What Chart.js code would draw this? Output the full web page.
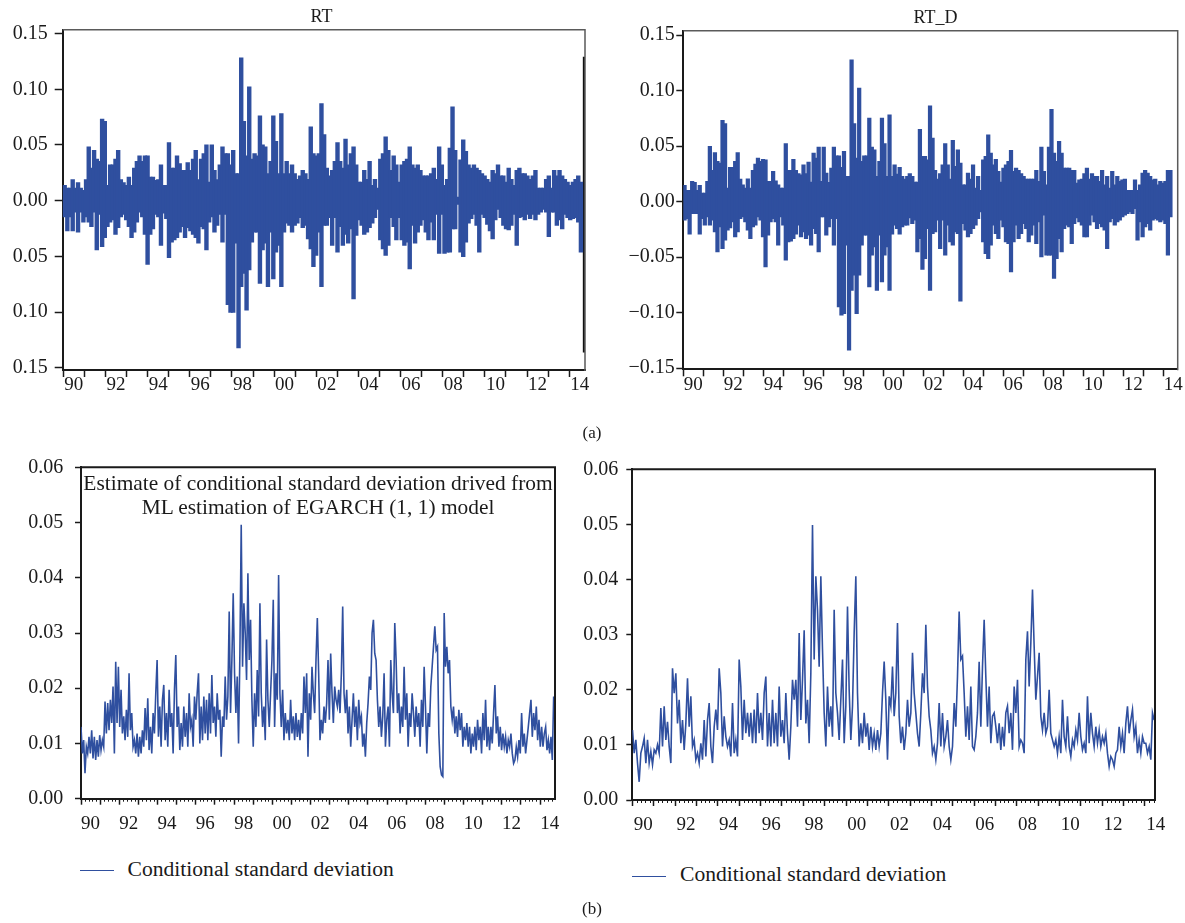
<!DOCTYPE html>
<html>
<head>
<meta charset="utf-8">
<title>RT / RT_D and EGARCH conditional standard deviation</title>
<script src="https://cdn.jsdelivr.net/npm/chart.js@4.4.1/dist/chart.umd.min.js"></script>
<style>
    html, body { margin: 0; padding: 0; background: #fff; }
    body { position: relative; width: 1185px; height: 923px; overflow: hidden;
           font-family: 'Liberation Serif', 'Times New Roman', serif; color: #1a1a1a; }
    canvas { position: absolute; }
    .txt { position: absolute; white-space: nowrap; line-height: 1; }
    .mid { transform: translateX(-50%); }
    .key { position: absolute; height: 0; width: 34px; border-top: 1.3px solid #2f4f9f; }
</style>
</head>
<body>
<canvas id="rt" width="600" height="400" style="left:0;top:0"></canvas>
<canvas id="rtd" width="585" height="400" style="left:600px;top:0"></canvas>
<canvas id="sdLeft" width="600" height="400" style="left:0;top:440px"></canvas>
<canvas id="sdRight" width="625" height="400" style="left:560px;top:440px"></canvas>

<div class="txt mid" style="left:321.5px;top:7px;font-size:18px">RT</div>
<div class="txt mid" style="left:935.5px;top:8px;font-size:18px">RT_D</div>
<div class="txt mid" style="left:592px;top:424px;font-size:17px">(a)</div>
<div class="txt mid" style="left:318px;top:473px;font-size:21.4px">Estimate of conditional standard deviation drived from</div>
<div class="txt mid" style="left:318px;top:497px;font-size:21.4px">ML estimation of EGARCH (1, 1) model</div>
<div class="key" style="left:80px;top:870px"></div>
<div class="txt" style="left:127.5px;top:858.5px;font-size:21.6px">Conditional standard deviation</div>
<div class="key" style="left:632px;top:875.5px"></div>
<div class="txt" style="left:680px;top:864px;font-size:21.6px">Conditional standard deviation</div>
<div class="txt mid" style="left:592px;top:900px;font-size:17px">(b)</div>

<script>
// ── Data ─────────────────────────────────────────────────────────────────
const YEARS = [1990, 1991, 1992, 1993, 1994, 1995, 1996, 1997, 1998, 1999, 2000, 2001, 2002,
               2003, 2004, 2005, 2006, 2007, 2008, 2009, 2010, 2011, 2012, 2013, 2014];
const RET_TICKS = [-0.15, -0.10, -0.05, 0, 0.05, 0.10, 0.15];
const SD_TICKS = [0, 0.01, 0.02, 0.03, 0.04, 0.05, 0.06];

// RT: high / low of each ~1.5 month block, Jan 1990 .. mid 2014
const RT_START = 1990.0, RT_END = 2014.62;
const RT_HI = [
    0.0135,0.011,0.011,0.0186,0.011,0.016,0.011,0.009,0.0186,0.048,
    0.029,0.045,0.037,0.035,0.073,0.071,0.0135,0.032,0.032,0.037,
    0.045,0.0186,0.016,0.0135,0.021,0.0135,0.029,0.035,0.040,0.035,
    0.040,0.040,0.021,0.021,0.018,0.0186,0.032,0.0135,0.0135,0.052,
    0.029,0.029,0.040,0.033,0.027,0.027,0.034,0.027,0.037,0.045,
    0.0186,0.037,0.042,0.050,0.0165,0.050,0.027,0.0186,0.032,0.048,
    0.042,0.042,0.032,0.045,0.024,0.024,
    0.128,0.071,0.040,0.102,0.037,0.042,0.040,0.076,0.050,0.048,
    0.024,0.035,0.076,0.053,0.024,0.078,0.024,0.035,0.024,0.032,
    0.024,0.019,0.022,0.027,0.024,0.019,0.066,0.042,0.040,0.042,
    0.087,0.059,0.029,0.022,0.027,0.035,0.052,0.035,0.029,0.055,
    0.032,0.042,0.048,0.032,0.0165,0.0165,0.027,0.019,0.035,0.0135,
    0.019,0.011,0.037,0.042,0.057,0.045,0.027,0.040,0.032,0.0165,
    0.032,0.035,0.037,0.048,0.032,
    0.029,0.032,0.027,0.022,0.022,0.022,0.024,0.029,0.019,0.048,
    0.032,0.0135,0.019,0.047,0.084,0.045,0.003,0.0365,0.0545,0.044,
    0.032,0.029,0.032,0.029,0.027,0.024,0.022,0.019,0.0165,0.027,
    0.024,0.032,0.022,0.022,0.0165,0.029,0.019,0.0135,0.027,0.029,
    0.024,0.024,0.022,0.019,0.022,0.027,0.011,0.011,0.011,0.019,
    0.022,0.011,0.027,0.022,0.027,0.022,0.019,0.0165,0.0135,0.0165,
    0.019,0.022,0.0165
];
const RT_LO = [
    -0.0144,-0.027,-0.0144,-0.027,-0.010,-0.028,-0.010,-0.019,-0.0144,-0.019,
    -0.023,-0.010,-0.044,-0.012,-0.041,-0.033,-0.023,-0.019,-0.017,-0.030,
    -0.024,-0.0144,-0.012,-0.017,-0.023,-0.033,-0.028,-0.019,-0.010,-0.0144,
    -0.030,-0.057,-0.030,-0.025,-0.012,-0.0144,-0.040,-0.011,-0.016,-0.051,
    -0.037,-0.035,-0.033,-0.028,-0.023,-0.033,-0.024,-0.027,-0.030,-0.033,
    -0.038,-0.023,-0.025,-0.044,-0.019,-0.0144,-0.028,-0.022,-0.012,-0.037,
    -0.012,-0.093,-0.100,-0.100,-0.038,-0.132,
    -0.077,-0.065,-0.098,-0.062,-0.037,-0.028,-0.028,-0.074,-0.044,-0.038,
    -0.077,-0.028,-0.070,-0.046,-0.040,-0.077,-0.028,-0.020,-0.022,-0.028,
    -0.022,-0.020,-0.015,-0.024,-0.022,-0.034,-0.043,-0.059,-0.049,-0.028,
    -0.077,-0.022,-0.022,-0.015,-0.040,-0.015,-0.046,-0.023,-0.040,-0.030,
    -0.038,-0.025,-0.088,-0.031,-0.017,-0.022,-0.030,-0.028,-0.024,-0.020,
    -0.015,-0.0075,-0.035,-0.043,-0.049,-0.040,-0.015,-0.023,-0.035,-0.015,
    -0.035,-0.040,-0.037,-0.061,-0.022,
    -0.038,-0.028,-0.022,-0.017,-0.028,-0.035,-0.019,-0.035,-0.012,-0.047,
    -0.012,-0.047,-0.046,-0.046,-0.025,-0.025,-0.003,-0.046,-0.050,-0.037,
    -0.020,-0.016,-0.012,-0.022,-0.046,-0.012,-0.015,-0.021,-0.027,-0.034,
    -0.017,-0.0075,-0.015,-0.022,-0.025,-0.026,-0.022,-0.012,-0.040,-0.015,
    -0.014,-0.017,-0.012,-0.016,-0.012,-0.017,-0.012,-0.010,-0.0075,-0.010,
    -0.032,-0.010,-0.010,-0.022,-0.017,-0.025,-0.012,-0.015,-0.017,-0.016,
    -0.015,-0.019,-0.046
];
// the dark stroke sitting on the right edge of the RT panel
const RT_EDGE_X = 2014.71;
const RT_EDGE = [-0.136, 0.129];

// RT_D: same blocks
const RTD_START = 1990.0, RTD_END = 2014.42;
const RTD_HI = [
    0.0144,0.0099,0.0099,0.018,0.0171,0.0099,0.0144,0.0075,0.0075,0.018,
    0.0495,0.028,0.044,0.036,0.0345,0.073,0.070,0.012,0.0306,0.0306,
    0.036,0.044,0.020,0.015,0.012,0.0204,0.012,0.028,0.0336,0.039,
    0.036,0.038,0.0375,0.018,0.018,0.027,0.0186,0.015,0.012,0.012,
    0.052,0.028,0.028,0.038,0.028,0.025,0.024,0.033,0.025,0.0354,
    0.0174,0.0435,0.039,0.049,0.018,0.049,0.0255,0.0171,0.030,0.049,
    0.041,0.041,0.0306,0.045,0.0225,0.0225,0.1276,0.070,0.039,0.102,
    0.036,0.041,0.041,0.075,0.049,0.0465,0.0225,0.036,0.075,0.052,
    0.0225,0.078,0.0225,0.033,0.0246,0.0306,0.0225,0.020,
    0.0225,0.025,0.0225,0.0174,0.0174,0.065,0.0405,0.0405,0.0375,0.086,
    0.057,0.028,0.020,0.025,0.033,0.052,0.033,0.020,0.055,0.0315,
    0.0465,0.0345,0.015,0.015,0.0255,0.020,0.033,0.012,0.0225,0.010,
    0.0375,0.0405,0.060,0.0435,0.033,0.038,0.027,0.0174,0.030,0.033,
    0.036,0.046,0.027,0.030,0.028,0.025,0.0225,0.020,0.020,0.020,
    0.020,0.028,0.018,0.049,0.027,0.015,0.049,0.083,0.0435,0.036,
    0.054,0.0435,0.030,0.030,0.030,0.028,0.028,0.0165,0.0195,0.020,
    0.025,0.030,0.020,0.025,0.0225,0.0225,0.018,0.028,0.015,0.0225,
    0.012,0.027,0.015,0.0225,0.018,0.0195,0.020,0.010,0.010,0.010,
    0.0195,0.010,0.015,0.0255,0.028,0.0255,0.0225,0.0195,0.020,0.015,
    0.018,0.0165,0.018,0.028,0.028
];
const RTD_LO = [
    -0.0165,-0.015,-0.029,-0.0105,-0.0105,-0.0105,-0.029,-0.015,-0.021,-0.0135,
    -0.021,-0.0165,-0.027,-0.045,-0.0225,-0.042,-0.0345,-0.0255,-0.0234,-0.018,
    -0.0315,-0.027,-0.015,-0.0135,-0.018,-0.0255,-0.033,-0.0225,-0.021,-0.0135,
    -0.0165,-0.0315,-0.0585,-0.030,-0.018,-0.015,-0.018,-0.039,-0.0135,-0.021,
    -0.0525,-0.036,-0.0354,-0.033,-0.029,-0.021,-0.0315,-0.027,-0.033,-0.030,
    -0.039,-0.024,-0.0285,-0.045,-0.0135,-0.0135,-0.030,-0.0225,-0.015,-0.039,
    -0.015,-0.0946,-0.102,-0.1006,-0.039,-0.1336,-0.0796,-0.066,-0.1006,-0.066,
    -0.039,-0.030,-0.030,-0.0766,-0.048,-0.0405,-0.0796,-0.030,-0.072,-0.048,
    -0.0405,-0.0796,-0.029,-0.021,-0.024,-0.029,-0.0225,-0.021,
    -0.021,-0.0144,-0.0195,-0.0165,-0.045,-0.033,-0.0607,-0.051,-0.024,-0.0796,
    -0.0285,-0.027,-0.0165,-0.042,-0.0165,-0.048,-0.021,-0.036,-0.039,-0.027,
    -0.0285,-0.0895,-0.0195,-0.0255,-0.0315,-0.0285,-0.024,-0.021,-0.015,-0.009,
    -0.036,-0.0465,-0.051,-0.039,-0.021,-0.0285,-0.033,-0.0165,-0.0225,-0.036,
    -0.0375,-0.063,-0.036,-0.021,-0.033,-0.0285,-0.0195,-0.024,-0.036,-0.030,
    -0.021,-0.0375,-0.018,-0.0495,-0.012,-0.048,-0.048,-0.048,-0.069,-0.051,
    -0.033,-0.045,-0.024,-0.021,-0.0225,-0.0375,-0.0195,-0.0144,-0.018,-0.021,
    -0.0315,-0.0315,-0.021,-0.012,-0.018,-0.024,-0.0195,-0.0225,-0.0255,-0.042,
    -0.018,-0.015,-0.021,-0.018,-0.0165,-0.0135,-0.012,-0.0105,-0.009,-0.0105,
    -0.006,-0.0345,-0.018,-0.0315,-0.0225,-0.0195,-0.0255,-0.0165,-0.015,-0.0165,
    -0.018,-0.0165,-0.0195,-0.048,-0.0135
];

// conditional standard deviation, left panel (EGARCH on RT)
const SDL_START = 1990.0, SDL_END = 2014.71;
const SD_LEFT = [
    0.0130,0.0082,0.0106,0.0046,0.0094,0.0082,0.0112,0.0082,0.0124,0.0073,
    0.0112,0.0070,0.0106,0.0076,0.0115,0.0088,0.0106,0.0094,0.0176,0.0118,
    0.0173,0.0124,0.0179,0.0137,0.0203,0.0082,0.0248,0.0137,0.0239,0.0130,
    0.0197,0.0118,0.0149,0.0106,0.0161,0.0112,0.0227,0.0124,0.0155,0.0094,
    0.0106,0.0082,0.0118,0.0076,0.0112,0.0082,0.0124,0.0094,0.0164,0.0106,
    0.0182,0.0088,0.0130,0.0082,0.0155,0.0118,0.0191,0.0251,0.0112,0.0167,
    0.0094,0.0179,0.0206,0.0106,0.0155,0.0094,0.0197,0.0130,0.0155,0.0082,
    0.0197,0.0260,0.0130,0.0167,0.0088,0.0137,0.0094,0.0167,0.0112,0.0155,
    0.0094,0.0191,0.0130,0.0143,0.0094,0.0185,0.0143,0.0191,0.0227,0.0100,
    0.0167,0.0106,0.0185,0.0118,0.0179,0.0106,0.0191,0.0118,0.0224,0.0137,
    0.0167,0.0112,0.0191,0.0143,0.0161,0.0076,0.0149,0.0130,0.0221,0.0143,
    0.0185,0.0339,0.0155,0.0251,0.0372,0.0227,0.0155,0.0221,0.0100,0.0263,
    0.0496,0.0239,0.0354,0.0300,0.0215,0.0408,0.0251,0.0324,0.0179,0.0094,
    0.0191,0.0130,0.0233,0.0149,0.0354,0.0191,0.0130,0.0167,0.0106,0.0288,
    0.0179,0.0130,0.0191,0.0251,0.0360,0.0130,0.0227,0.0179,0.0405,0.0191,
    0.0130,0.0197,0.0106,0.0155,0.0118,0.0143,0.0106,0.0179,0.0118,0.0149,
    0.0106,0.0155,0.0112,0.0143,0.0106,0.0155,0.0118,0.0221,0.0155,0.0227,
    0.0076,0.0191,0.0143,0.0239,0.0191,0.0155,0.0251,0.0327,0.0227,
    0.0106,0.0143,0.0118,0.0167,0.0137,0.0173,0.0251,0.0143,0.0263,0.0191,
    0.0137,0.0203,0.0179,0.0167,0.0197,0.0155,0.0227,0.0348,0.0191,0.0155,
    0.0197,0.0118,0.0167,0.0094,0.0143,0.0191,0.0130,0.0167,0.0106,0.0179,
    0.0137,0.0149,0.0094,0.0118,0.0076,0.0137,0.0173,0.0221,0.0197,0.0300,
    0.0324,0.0263,0.0251,0.0179,0.0130,0.0167,0.0112,0.0149,0.0227,0.0094,
    0.0143,0.0167,0.0094,0.0251,0.0191,0.0155,0.0318,0.0251,0.0155,0.0191,
    0.0118,0.0167,0.0130,0.0239,0.0143,0.0191,0.0094,0.0155,0.0130,0.0191,
    0.0155,0.0112,0.0167,0.0130,0.0155,0.0094,0.0179,0.0130,0.0239,0.0167,
    0.0082,0.0155,0.0130,0.0203,0.0239,0.0275,0.0312,0.0269,0.0275,0.0118,
    0.0058,0.0043,0.0040,0.0336,0.0239,0.0275,0.0227,0.0251,0.0167,0.0143,
    0.0167,0.0118,0.0149,0.0112,0.0161,0.0124,0.0155,0.0094,0.0130,0.0106,
    0.0137,0.0094,0.0130,0.0082,0.0118,0.0094,0.0130,0.0088,0.0143,0.0106,
    0.0130,0.0082,0.0155,0.0106,0.0179,0.0094,0.0130,0.0088,0.0130,0.0100,
    0.0155,0.0206,0.0118,0.0149,0.0094,0.0130,0.0088,0.0118,0.0094,0.0112,
    0.0082,0.0106,0.0094,0.0118,0.0082,0.0064,0.0070,0.0094,0.0076,0.0106,
    0.0082,0.0155,0.0094,0.0118,0.0082,0.0106,0.0130,0.0155,0.0179,0.0112,
    0.0155,0.0124,0.0167,0.0106,0.0143,0.0094,0.0130,0.0094,0.0118,0.0130,
    0.0088,0.0106,0.0082,0.0112,0.0070,0.0185
];

// conditional standard deviation, right panel (EGARCH on RT_D)
const SDR_START = 1990.0, SDR_END = 2014.43;
const SD_RIGHT = [
    0.0127,0.0085,0.0109,0.0067,0.0033,0.0085,0.0097,0.0112,0.0067,0.0109,
    0.0067,0.0088,0.0064,0.0091,0.0085,0.0100,0.0085,0.0167,0.0097,0.0170,
    0.0109,0.0142,0.0097,0.0067,0.0239,0.0194,0.0230,0.0139,0.0182,0.0103,
    0.0145,0.0091,0.0139,0.0221,0.0133,0.0188,0.0097,0.0109,0.0073,0.0085,
    0.0067,0.0103,0.0073,0.0145,0.0079,0.0145,0.0176,0.0097,0.0067,0.0133,
    0.0164,0.0127,0.0239,0.0194,0.0097,0.0152,0.0115,0.0097,0.0109,0.0079,
    0.0176,0.0085,0.0109,0.0079,0.0255,0.0206,0.0109,0.0182,0.0121,0.0158,
    0.0115,0.0158,0.0103,0.0164,0.0103,0.0194,0.0121,0.0158,0.0109,0.0194,
    0.0224,0.0097,0.0158,0.0097,0.0182,0.0103,0.0158,0.0097,0.0206,0.0115,
    0.0145,0.0103,0.0194,0.0121,0.0073,0.0133,0.0218,0.0182,0.0218,0.0133,
    0.0303,0.0145,0.0218,0.0308,0.0139,0.0182,0.0103,0.0230,0.0499,0.0255,
    0.0406,0.0345,0.0242,0.0406,0.0273,0.0158,0.0097,0.0206,0.0133,0.0170,
    0.0115,0.0345,0.0194,0.0158,0.0109,0.0182,0.0255,0.0103,0.0170,0.0351,
    0.0200,0.0109,0.0170,0.0303,0.0406,0.0194,0.0097,0.0139,0.0103,0.0158,
    0.0115,0.0139,0.0091,0.0133,0.0097,0.0121,0.0091,0.0127,0.0097,0.0121,
    0.0194,0.0251,0.0182,0.0073,0.0188,0.0170,0.0242,0.0152,0.0194,0.0321,
    0.0152,
    0.0103,0.0133,0.0091,0.0121,0.0182,0.0133,0.0158,0.0267,0.0194,0.0158,
    0.0121,0.0097,0.0158,0.0230,0.0194,0.0318,0.0206,0.0152,0.0127,0.0085,
    0.0097,0.0073,0.0103,0.0176,0.0097,0.0158,0.0097,0.0115,0.0145,0.0097,
    0.0073,0.0097,0.0176,0.0133,0.0224,0.0342,0.0255,0.0261,0.0194,0.0115,
    0.0170,0.0109,0.0206,0.0097,0.0091,0.0115,0.0158,0.0251,0.0133,0.0242,
    0.0327,0.0224,0.0133,0.0206,0.0103,0.0152,0.0158,0.0133,0.0103,0.0139,
    0.0091,0.0133,0.0097,0.0158,0.0170,0.0121,0.0158,0.0091,0.0206,0.0158,
    0.0218,0.0097,0.0109,0.0103,0.0085,0.0255,0.0306,0.0206,0.0285,0.0382,
    0.0279,0.0182,0.0224,0.0267,0.0152,0.0127,0.0158,0.0121,0.0133,0.0200,
    0.0121,0.0109,0.0097,0.0109,0.0085,0.0115,0.0085,0.0182,0.0115,0.0097,
    0.0152,0.0097,0.0079,0.0109,0.0097,0.0127,0.0109,0.0158,0.0115,0.0091,
    0.0103,0.0085,0.0188,0.0103,0.0158,0.0121,0.0097,0.0133,0.0103,0.0127,
    0.0097,0.0115,0.0103,0.0121,0.0085,0.0061,0.0079,0.0073,0.0061,0.0085,
    0.0091,0.0133,0.0097,0.0121,0.0085,0.0139,0.0170,0.0121,0.0145,0.0164,
    0.0115,0.0133,0.0085,0.0109,0.0085,0.0115,0.0103,0.0103,0.0085,0.0097,
    0.0073,0.0158,0.0145
];

// ── Look ─────────────────────────────────────────────────────────────────
const BLUE = '#2f4f9f';
const INK = '#1a1a1a';
const SERIF = "'Liberation Serif', 'Times New Roman', serif";
const X_FONT = { family: SERIF, size: 19, lineHeight: 1 };
const Y_FONT = { family: SERIF, size: 20, lineHeight: 1 };

// blocks -> floating bars, series -> points on the year axis
function blocks(hi, lo, start, end) {
    const w = (end - start) / hi.length;
    return hi.map((h, i) => ({ x: start + (i + 0.5) * w, y: [lo[i], h] }));
}
function series(vals, start, end) {
    const step = (end - start) / (vals.length - 1);
    return vals.map((v, i) => ({ x: start + i * step, y: v }));
}

// top/right sides of the box, plus the small in-between ticks on the lower panels
const framePlugin = {
    id: 'frame',
    afterDraw(chart, args, o) {
        const { ctx, chartArea: a } = chart;
        ctx.save();
        ctx.strokeStyle = o.color;
        ctx.lineWidth = o.width;
        ctx.beginPath();
        ctx.moveTo(a.left, a.top);
        ctx.lineTo(a.right, a.top);
        ctx.lineTo(a.right, a.bottom + 1);
        ctx.stroke();
        if (o.minorPerYear) {
            const xs = chart.scales.x;
            ctx.strokeStyle = INK;
            ctx.lineWidth = 1;
            ctx.beginPath();
            for (let k = 1; YEARS[0] + k / o.minorPerYear <= xs.max; k++) {
                if (k % o.minorPerYear === 0) continue;
                const px = Math.round(xs.getPixelForValue(YEARS[0] + k / o.minorPerYear)) + 0.5;
                ctx.moveTo(px, a.bottom);
                ctx.lineTo(px, a.bottom + o.minorLen);
            }
            ctx.stroke();
        }
        ctx.restore();
    }
};

function makeChart(id, p) {
    const canvas = document.getElementById(id);
    const W = canvas.width, H = canvas.height;
    return new Chart(canvas, {
        type: p.type,
        data: { datasets: p.datasets },
        options: {
            responsive: false,
            animation: false,
            events: [],
            layout: { padding: { left: 0, top: p.area.top, right: W - p.area.right, bottom: 0 } },
            plugins: { legend: { display: false }, tooltip: { enabled: false }, frame: p.frame },
            scales: {
                x: {
                    type: 'linear', min: p.xMin, max: p.xMax, offset: false,
                    afterFit: s => { s.height = H - p.area.bottom; },
                    afterBuildTicks: s => { s.ticks = YEARS.map(v => ({ value: v })); },
                    grid: { drawOnChartArea: false, offset: false, tickLength: p.xTickLen, tickColor: INK, tickWidth: 1.5 },
                    border: { color: INK, width: 2 },
                    ticks: {
                        autoSkip: false, maxRotation: 0, padding: p.xPad, labelOffset: p.labelOffset,
                        color: INK, font: X_FONT,
                        callback: v => (v % 2 === 0 ? String(v).slice(2) : '')
                    }
                },
                y: {
                    min: p.yMin, max: p.yMax,
                    afterFit: s => { s.width = p.area.left; },
                    afterBuildTicks: s => { s.ticks = p.yTicks.map(v => ({ value: v })); },
                    grid: { drawOnChartArea: false, tickLength: p.yTickLen, tickColor: INK, tickWidth: 1.5 },
                    border: { color: INK, width: 2 },
                    ticks: { padding: p.yPad, color: INK, font: Y_FONT, callback: p.yLabel }
                }
            }
        },
        plugins: [framePlugin]
    });
}

// bars a little wider than their slot so neighbouring blocks close up
const barStyle = { backgroundColor: BLUE, borderWidth: 0, barPercentage: 1.2, categoryPercentage: 1,
                   inflateAmount: 0.6, grouped: false };
const lineStyle = { borderColor: BLUE, borderWidth: 1.6, pointRadius: 0, tension: 0, fill: false };

// ── (a) returns ──────────────────────────────────────────────────────────
makeChart('rt', {
    type: 'bar',
    datasets: [
        { ...barStyle, data: blocks(RT_HI, RT_LO, RT_START, RT_END) },
        { data: [{ x: RT_EDGE_X, y: RT_EDGE }], backgroundColor: '#111', barThickness: 2, grouped: false }
    ],
    area: { left: 62.7, top: 29.7, right: 585, bottom: 370 },
    xMin: 1989.97, xMax: 2014.75, xTickLen: 7, xPad: -1, labelOffset: 10.5,
    yMin: -0.152, yMax: 0.1535, yTicks: RET_TICKS, yTickLen: 8, yPad: 7,
    yLabel: v => Math.abs(v).toFixed(2),
    frame: { color: '#5a5a5a', width: 1.5 }
});

makeChart('rtd', {
    type: 'bar',
    datasets: [{ ...barStyle, data: blocks(RTD_HI, RTD_LO, RTD_START, RTD_END) }],
    area: { left: 83.3, top: 30.7, right: 577.7, bottom: 369.3 },
    xMin: 1990, xMax: 2014.72, xTickLen: 7, xPad: -1, labelOffset: 10,
    yMin: -0.151, yMax: 0.154, yTicks: RET_TICKS, yTickLen: 7, yPad: 1.5,
    yLabel: v => (v < 0 ? '\u2212' : '') + Math.abs(v).toFixed(2),
    frame: { color: '#5a5a5a', width: 1.5 }
});

// ── (b) conditional standard deviation ───────────────────────────────────
makeChart('sdLeft', {
    type: 'line',
    datasets: [{ ...lineStyle, data: series(SD_LEFT, SDL_START, SDL_END) }],
    area: { left: 81, top: 27.3, right: 555, bottom: 358.7 },
    xMin: 1990, xMax: 2014.78, xTickLen: 6, xPad: 9.5, labelOffset: 9.6,
    yMin: 0, yMax: 0.06, yTicks: SD_TICKS, yTickLen: 6, yPad: 11.7,
    yLabel: v => v.toFixed(2),
    frame: { color: INK, width: 2, minorPerYear: 5, minorLen: 3 }
});

makeChart('sdRight', {
    type: 'line',
    datasets: [{ ...lineStyle, data: series(SD_RIGHT, SDR_START, SDR_END) }],
    area: { left: 72.3, top: 29.3, right: 595, bottom: 360 },
    xMin: 1989.99, xMax: 2014.47, xTickLen: 6, xPad: 9.5, labelOffset: 10.7,
    yMin: 0, yMax: 0.06, yTicks: SD_TICKS, yTickLen: 6, yPad: 8,
    yLabel: v => v.toFixed(2),
    frame: { color: INK, width: 2, minorPerYear: 5, minorLen: 3 }
});
</script>
</body>
</html>
